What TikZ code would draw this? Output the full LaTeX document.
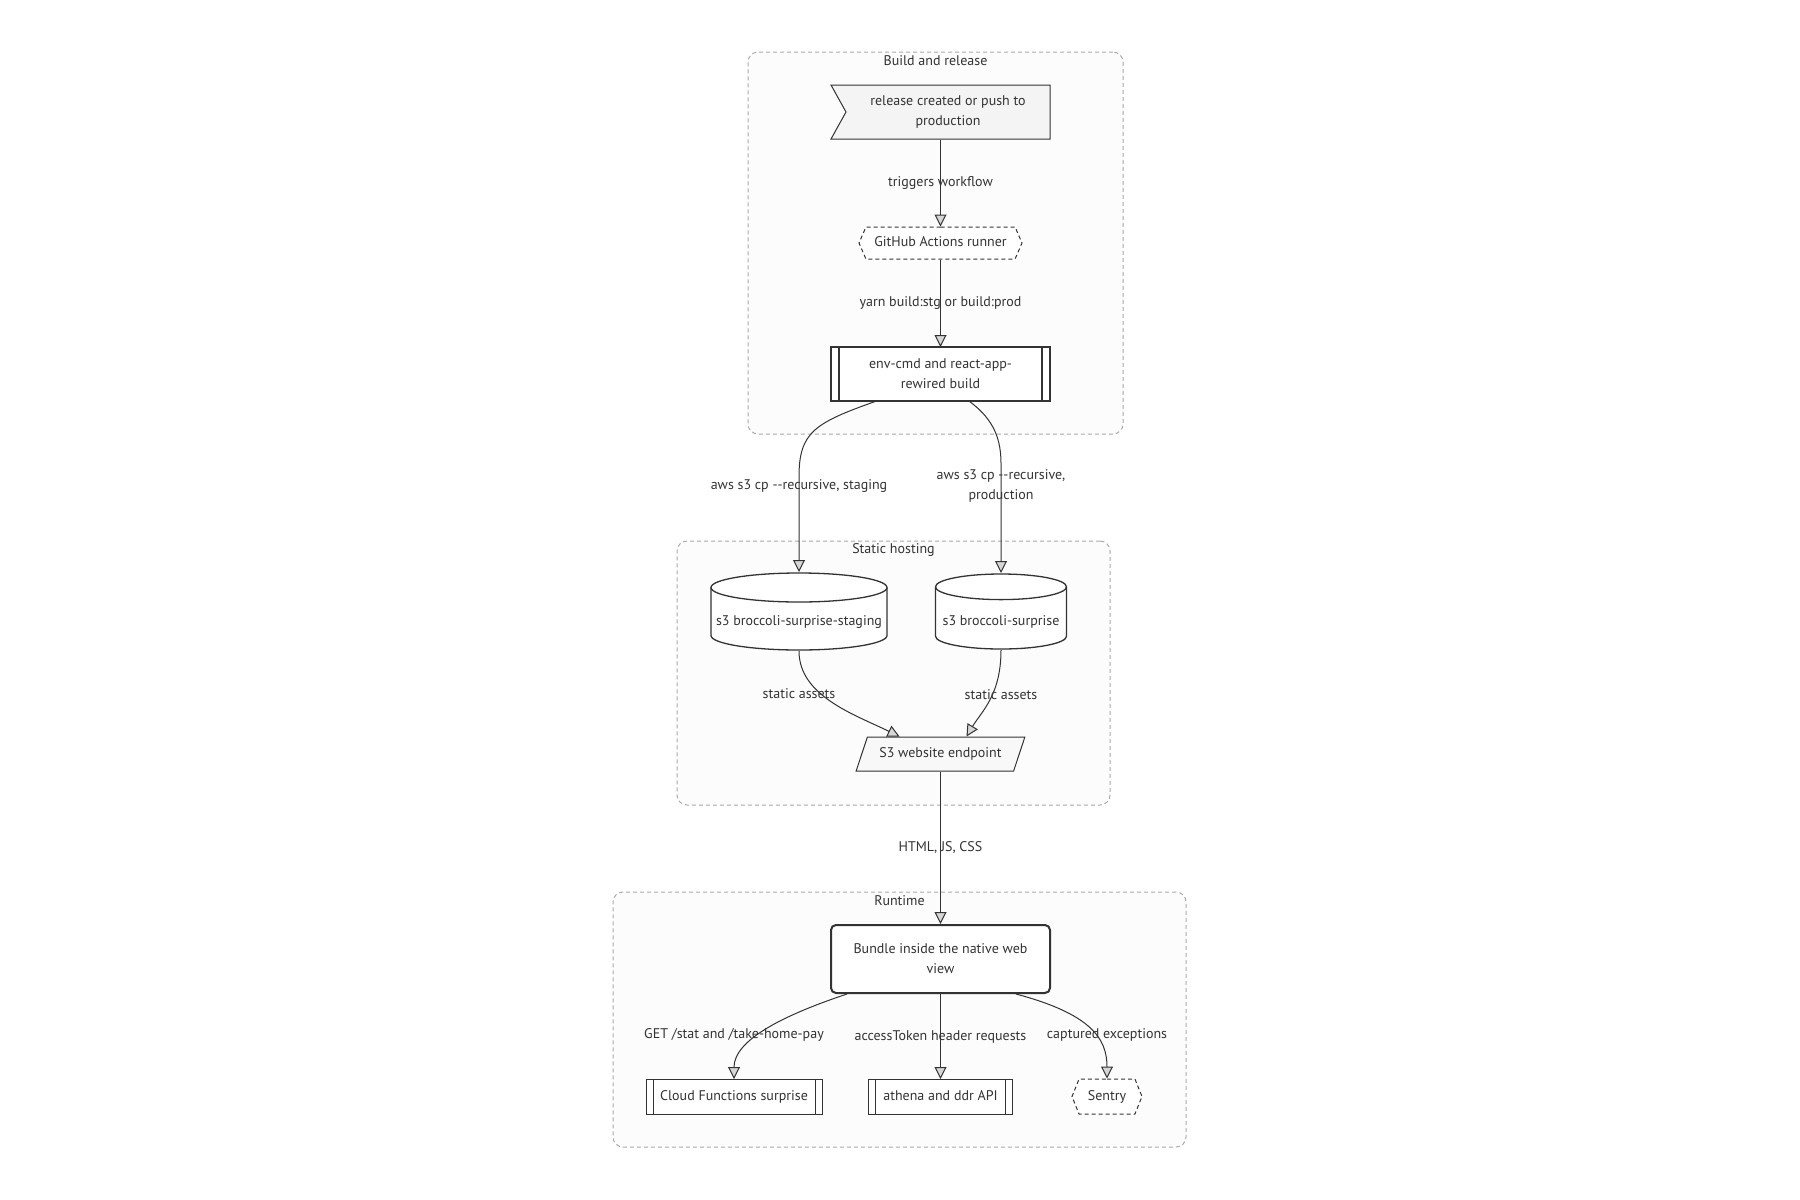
\documentclass[tikz,border=0pt]{standalone}
\usepackage{fontspec}
\setmainfont{PT Sans}
\usetikzlibrary{arrows.meta,shapes.geometric,shapes.symbols,calc,fit}
\definecolor{ink}{HTML}{333333}
\definecolor{tipfill}{HTML}{D6D6D6}
\definecolor{frame}{HTML}{AAAAAA}
\definecolor{framefill}{HTML}{FCFCFC}
\definecolor{flagfill}{HTML}{F4F4F4}
\definecolor{parafill}{HTML}{F8F8F8}
\tikzstyle{cluster} = [rectangle, draw=frame, fill=framefill, line width=1pt,
    dash pattern=on 4pt off 3pt, rounded corners=10pt, inner sep=0pt]
\tikzstyle{ctitle} = [inner sep=0pt]
\tikzstyle{flag} = [signal, signal from=west, signal to=nowhere, signal pointer angle=122,
    draw=ink, fill=flagfill, line width=1pt, minimum width=219pt, minimum height=54pt, align=center]
\tikzstyle{hexa} = [signal, signal from=nowhere, signal to=west and east, signal pointer angle=133,
    draw=ink, fill=white, line width=1pt, dash pattern=on 4pt off 3pt, minimum height=32pt,
    text height=10pt, text depth=3pt]
\tikzstyle{job} = [rectangle, draw=ink, fill=white, line width=2pt, minimum width=219pt,
    minimum height=54pt, align=center, outer sep=0pt,
    append after command={([xshift=8pt]\tikzlastnode.north west) edge[draw=ink, line width=1.5pt] ([xshift=8pt]\tikzlastnode.south west)
      ([xshift=-8pt]\tikzlastnode.north east) edge[draw=ink, line width=1.5pt] ([xshift=-8pt]\tikzlastnode.south east)}]
\tikzstyle{subr} = [rectangle, draw=ink, fill=white, line width=1pt, minimum height=35pt, outer sep=0pt,
    text height=10pt, text depth=3pt,
    append after command={([xshift=7pt]\tikzlastnode.north west) edge[draw=ink, line width=1pt] ([xshift=7pt]\tikzlastnode.south west)
      ([xshift=-7pt]\tikzlastnode.north east) edge[draw=ink, line width=1pt] ([xshift=-7pt]\tikzlastnode.south east)}]
\tikzstyle{drumbox} = [rectangle, inner sep=0pt, outer sep=0pt, text height=31pt, text depth=3pt]
\tikzstyle{para} = [trapezium, trapezium left angle=63, trapezium right angle=117, trapezium stretches=true,
    draw=ink, fill=parafill, line width=1pt, minimum width=169pt, minimum height=34pt]
\tikzstyle{view} = [rectangle, draw=ink, fill=white, line width=2pt, rounded corners=5pt,
    minimum width=219pt, minimum height=68pt, align=center]
\tikzstyle{flow} = [draw=ink, line width=1pt, -{Triangle[length=12pt, width=12pt, fill=tipfill]}]
\tikzstyle{lbl} = [inner sep=1pt, align=center]
\newcommand{\drum}[3]{%
  \draw[ink, line width=1.3pt, fill=white]
    ([shift={(-#1pt,#3pt)}]path picture bounding box.center) arc[start angle=180, end angle=0, x radius=#1pt, y radius=#2pt]
    -- ([shift={(#1pt,-#3pt)}]path picture bounding box.center) arc[start angle=0, end angle=-180, x radius=#1pt, y radius=#2pt] -- cycle;
  \draw[ink, line width=1.3pt]
    ([shift={(-#1pt,#3pt)}]path picture bounding box.center) arc[start angle=180, end angle=360, x radius=#1pt, y radius=#2pt];}

\begin{document}
\begin{tikzpicture}[x=1pt, y=-1pt, font=\fontsize{14}{20}\selectfont, text=ink]
  \useasboundingbox (0,0) rectangle (1800,1200);

  % subgraphs
  \node[cluster, fit={(748,52) (1123,434)}] (build) {};
  \node[cluster, fit={(677,541) (1110,805)}] (hosting) {};
  \node[cluster, fit={(613,892) (1186,1147)}] (runtime) {};
  \node[ctitle] (buildt) at ($(build.north)+(0,9)$) {Build and release};
  \node[ctitle] (hostingt) at ($(hosting.north)+(0,9)$) {Static hosting};
  \node[ctitle] (runtimet) at ($(runtime.north)+(0,9)$) {Runtime};

  \node[flag] (rel) at (948,112) {release created or push to\\production};
  \node[hexa, minimum width=163pt] (gh) at (940.5,243) {GitHub Actions runner};
  \node[job] (env) at (940.5,374) {env-cmd and react-app-\\rewired build};
  \node[drumbox, minimum width=178pt, minimum height=79pt,
    path picture={\drum{88}{14.5}{24}}] (stg) at (799,611.5) {s3 broccoli-surprise-staging};
  \node[drumbox, minimum width=133pt, minimum height=77pt,
    path picture={\drum{65.5}{12.8}{24.7}}] (prd) at (1001,611.5) {s3 broccoli-surprise};
  \node[para] (s3) at (940.5,754) {S3 website endpoint};
  \node[view] (bun) at (940.5,959) {Bundle inside the native web\\view};
  \node[subr, minimum width=176pt] (cf) at (734,1096.5) {Cloud Functions surprise};
  \node[subr, minimum width=144pt] (ath) at (940.5,1096.5) {athena and ddr API};
  \node[hexa, minimum width=70pt, minimum height=35pt, signal pointer angle=136] (sen) at (1107,1096.5) {Sentry};

  \draw[flow] (rel.south -| gh.north) -- node[lbl] {triggers workflow} (gh.north);
  \path[flow] (gh) edge node[lbl] {yarn build:stg or build:prod} (env);
  \draw[flow] ($(env.south)+(-64,0)$) .. controls +(-62,22) and +(0,-45) .. ($(stg.north)+(0,-95)$)
    -- node[lbl, pos=0.1] {aws s3 cp -{}-recursive, staging} (stg.north);
  \draw[flow] ($(env.south)+(28.5,0)$) .. controls +(20,15) and +(0,-30) .. ($(prd.north)+(0,-110)$)
    -- node[lbl, pos=0.21] {aws s3 cp -{}-recursive,\\production} (prd.north);
  \draw[flow] (stg.south) .. controls +(0,45) and +(-45,-22) .. ($(s3.north)+(-41,0)$)
    node[lbl] at ($(stg.south)+(0,43)$) {static assets};
  \draw[flow] (prd.south) .. controls +(0,45) and +(15,-25) .. ($(s3.north)+(26,0)$)
    node[lbl] at ($(prd.south)+(0,45)$) {static assets};
  \path[flow] (s3) edge node[lbl] {HTML, JS, CSS} (bun);
  \draw[flow] ($(bun.south)+(-93.5,0)$) .. controls +(-60,20) and +(0,-40) .. (cf.north)
    node[lbl] at ($(cf.north)+(0,-44)$) {GET /stat and /take-home-pay};
  \path[flow] (bun) edge node[lbl] {accessToken header requests} (ath);
  \draw[flow] ($(bun.south)+(75.5,0)$) .. controls +(75,20) and +(0,-40) .. (sen.north)
    node[lbl] at ($(sen.north)+(0,-44)$) {captured exceptions};
\end{tikzpicture}
\end{document}
